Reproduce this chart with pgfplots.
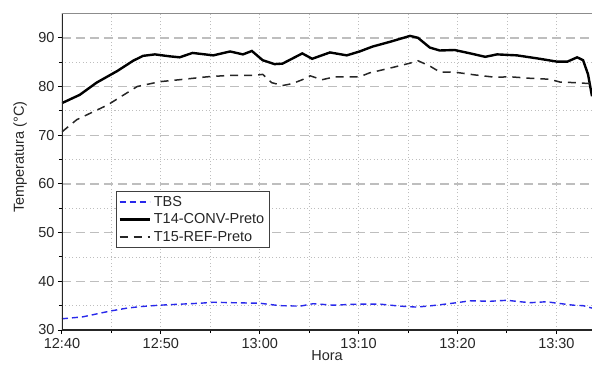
\documentclass[border=0pt]{standalone}
\usepackage{fontspec}
\setmainfont{Liberation Sans}
\usepackage{pgfplots}
\pgfplotsset{compat=1.18}
\definecolor{tbsblue}{RGB}{40,40,235}
\definecolor{gridgray}{RGB}{190,190,190}
\definecolor{topgray}{RGB}{140,140,140}
\begin{document}
\begin{tikzpicture}
\begin{axis}[
  scale only axis,
  width=530pt, height=317pt,
  xmin=0, xmax=53.6,
  ymin=30, ymax=95.1,
  axis line style={draw=none},
  xtick={0,10,20,30,40,50},
  xticklabels={12:40,12:50,13:00,13:10,13:20,13:30},
  minor xtick={5,15,25,35,45},
  ytick={30,40,50,60,70,80,90},
  minor ytick={35,45,55,65,75,85},
  tick align=outside,
  major tick length=4pt,
  minor tick length=3pt,
  tick style={black, line width=1pt},
  xtick pos=bottom, ytick pos=left,
  xmajorgrids, ymajorgrids, xminorgrids, yminorgrids,
  major x grid style={gridgray, line width=0.8pt, dash pattern=on 1pt off 2.5pt},
  minor x grid style={gridgray, line width=0.8pt, dash pattern=on 1pt off 2.5pt},
  major y grid style={gridgray, line width=1.4pt, dash pattern=on 9pt off 5pt},
  minor y grid style={gridgray, line width=0.8pt, dash pattern=on 1pt off 2.5pt},
  /pgf/number format/assume math mode=true,
  tick label style={font=\fontsize{14.5}{17}\selectfont, text=black!85},
  xticklabel style={yshift=-1pt},
  xlabel={Hora},
  ylabel={Temperatura (°C)},
  label style={font=\fontsize{14.5}{17}\selectfont, text=black!85},
  xlabel style={at={(rel axis cs:0.5,-0.060)}, anchor=north, inner ysep=1pt},
  ylabel style={at={(rel axis cs:-0.0792,0.546)}, anchor=center},
  legend style={at={(rel axis cs:0.102,0.438)}, anchor=north west,
    draw=black!75, line width=0.8pt, font=\fontsize{14.5}{16}\selectfont,
    inner xsep=2pt, inner ysep=3.5pt, row sep=4pt,
    nodes={inner sep=1pt, inner xsep=3pt, text=black!85}},
  legend cell align=left,
  legend image code/.code={\draw[#1] (0pt,0pt) -- (30pt,0pt);},
]
\addplot[tbsblue, line width=1.4pt, dash pattern=on 6pt off 4pt] coordinates {
(0,32.3) (2.1,32.7) (4.9,33.9) (6.6,34.5) (7.9,34.8) (9.9,35.1) (11.9,35.3)
(14.0,35.5) (15.3,35.7) (17.3,35.6) (20.0,35.5) (22.0,35.0) (24.1,34.9)
(25.4,35.4) (27.4,35.1) (29.8,35.3) (32.2,35.3) (34.2,34.9) (35.9,34.7)
(37.9,35.1) (39.9,35.6) (41.3,36.0) (43.3,35.9) (45.0,36.1) (47.3,35.6)
(49.0,35.8) (50.1,35.5) (51.7,35.1) (52.7,35.0) (53.6,34.5)
};
\addlegendentry{TBS}
\addplot[black, line width=2.4pt] coordinates {
(0,76.6) (1.8,78.3) (3.5,80.8) (5.6,83.2) (7.2,85.3) (8.2,86.3) (9.4,86.6)
(10.9,86.2) (11.9,86.0) (13.2,86.9) (15.3,86.4) (17.0,87.2) (18.3,86.6)
(19.2,87.3) (20.3,85.4) (21.5,84.6) (22.3,84.7) (24.3,86.8) (25.3,85.7)
(27.1,87.0) (28.8,86.4) (30.1,87.2) (31.4,88.2) (33.2,89.2) (35.2,90.4)
(36.0,90.0) (37.2,88.0) (38.2,87.4) (39.7,87.5) (41.3,86.8) (42.8,86.1)
(44.0,86.6) (46.0,86.4) (48.0,85.8) (50.1,85.1) (51.1,85.1) (52.1,86.0)
(52.7,85.4) (53.2,82.5) (53.6,78.0)
};
\addlegendentry{T14-CONV-Preto}
\addplot[black!85, line width=1.5pt, dash pattern=on 8pt off 6pt] coordinates {
(0,70.7) (1.5,73.2) (4.6,76.2) (7.6,80.0) (9.9,81.0) (11.9,81.4) (14.7,82.0)
(17.0,82.3) (18.3,82.3) (19.5,82.3) (20.3,82.5) (21.2,80.8) (22.3,80.2)
(23.3,80.6) (24.3,81.4) (25.1,82.2) (26.3,81.4) (27.6,82.0) (29.1,82.0)
(30.1,82.0) (31.1,82.8) (33.2,83.8) (35.2,84.8) (36.0,85.3) (37.2,84.2)
(38.2,83.0) (39.9,82.9) (41.7,82.4) (43.8,81.9) (45.3,82.0) (47.3,81.7)
(49.3,81.5) (50.4,80.9) (51.9,80.8) (53.4,80.6) (53.6,80.3)
};
\addlegendentry{T15-REF-Preto}
\draw[black!85, line width=1.4pt] (rel axis cs:0,0) -- (rel axis cs:0,1);
\draw[black!85, line width=1.4pt] (rel axis cs:0,0) -- (rel axis cs:1,0);
\draw[topgray, line width=1.6pt] (rel axis cs:0,1) -- (rel axis cs:1,1);
\coordinate (SW) at (rel axis cs:0,0);
\coordinate (NE) at (rel axis cs:1,1);
\end{axis}
\pgfresetboundingbox
\path ([shift={(-62pt,-37pt)}]SW) rectangle ([shift={(0pt,13pt)}]NE);
\end{tikzpicture}
\end{document}
